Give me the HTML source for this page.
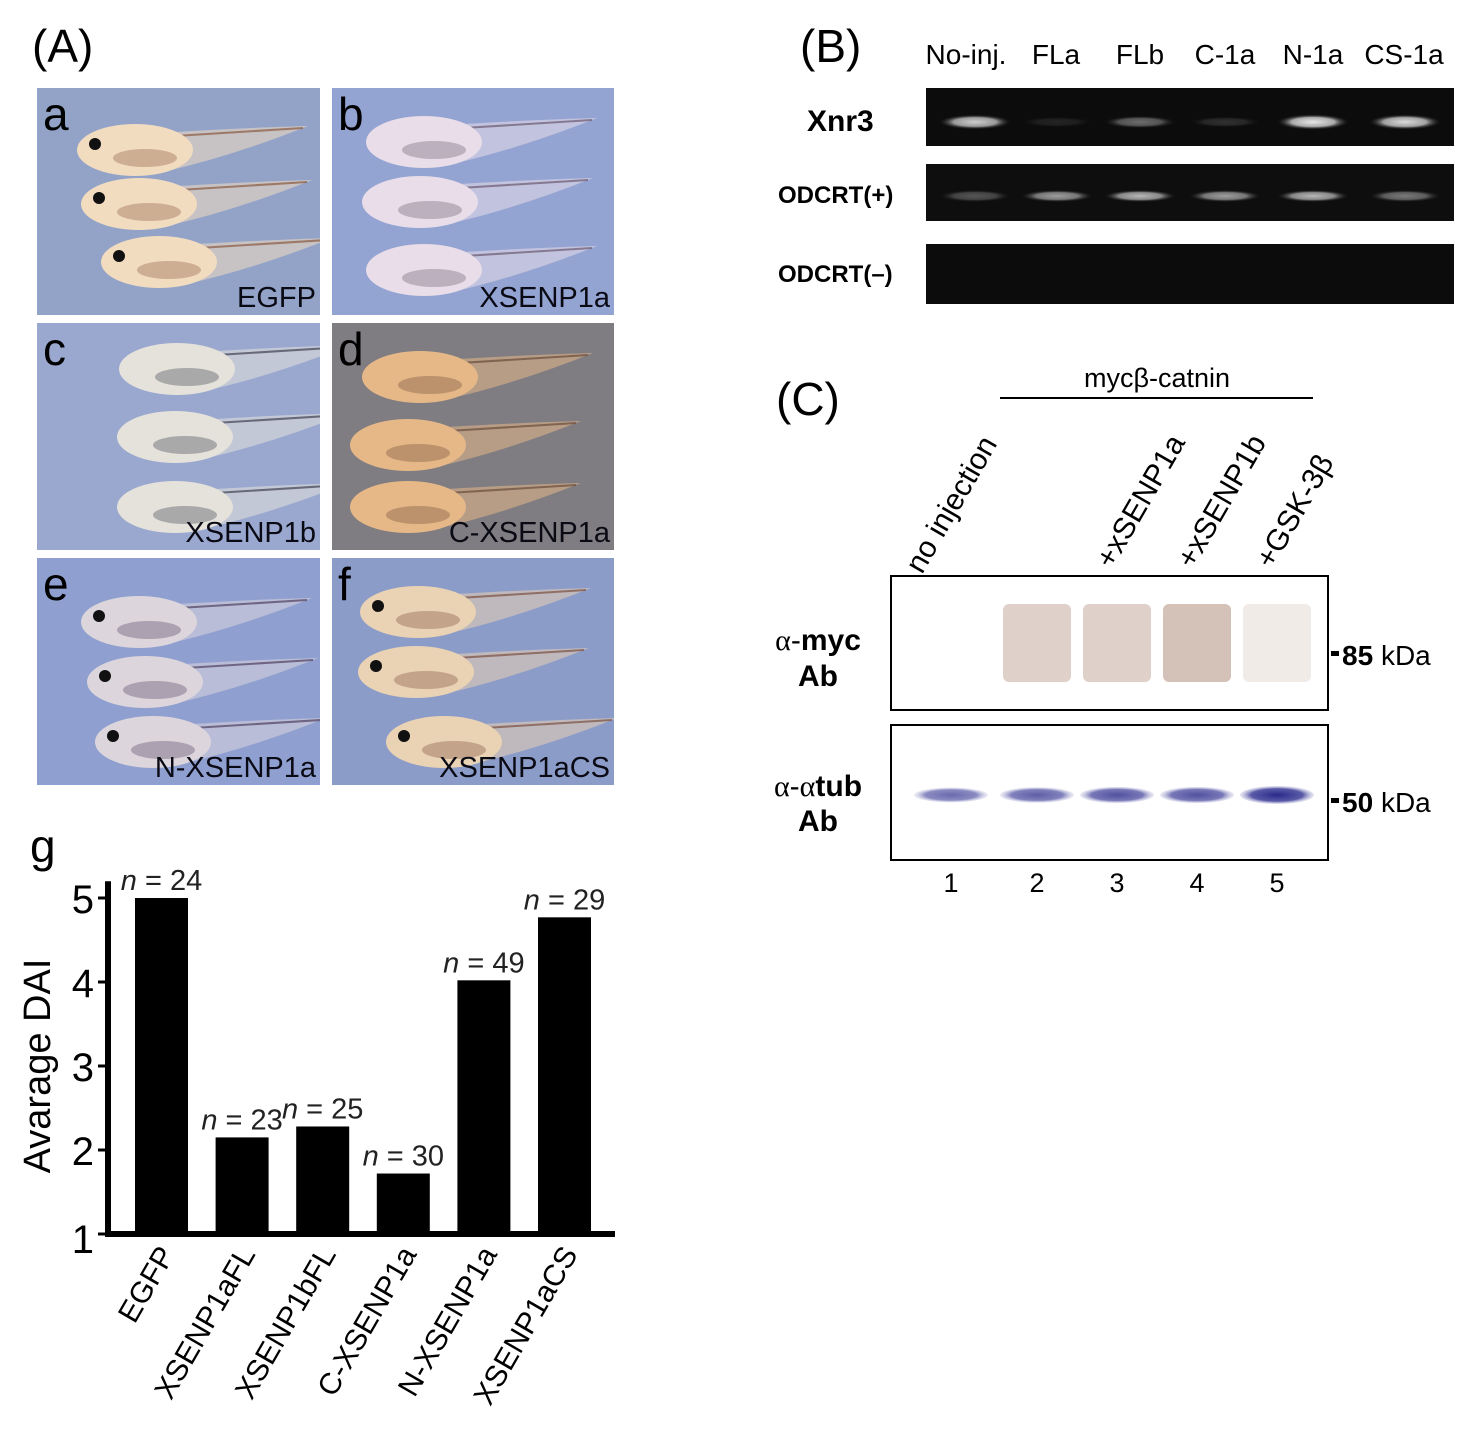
<!DOCTYPE html>
<html><head><meta charset="utf-8"><style>
html,body{margin:0;padding:0;background:#fff}
svg{display:block;font-family:"Liberation Sans",sans-serif}
</style></head><body>
<svg id="fig" width="1480" height="1440" viewBox="0 0 1480 1440" xmlns="http://www.w3.org/2000/svg">
<defs id="defs">
<radialGradient id="bandW" cx="0.5" cy="0.5" r="0.5"><stop offset="0" stop-color="#fff"/><stop offset="0.6" stop-color="#bbb"/><stop offset="1" stop-color="#222" stop-opacity="0"/></radialGradient>
<radialGradient id="bandB" cx="0.5" cy="0.5" r="0.5"><stop offset="0" stop-color="#2a2a8a"/><stop offset="0.7" stop-color="#5a5aa8"/><stop offset="1" stop-color="#b0b0d8" stop-opacity="0.3"/></radialGradient>
</defs>
<text x="32" y="62" font-size="46">(A)</text>
<g id="photos"></g>

<!-- Panel B -->
<text x="800" y="62" font-size="46">(B)</text>
<g font-size="28" text-anchor="middle">
<text x="966" y="64">No-inj.</text><text x="1056" y="64">FLa</text><text x="1140" y="64">FLb</text><text x="1225" y="64">C-1a</text><text x="1313" y="64">N-1a</text><text x="1404" y="64">CS-1a</text>
</g>
<g font-weight="bold">
<text x="807" y="131" font-size="30">Xnr3</text>
<text x="778" y="203" font-size="24">ODCRT(+)</text>
<text x="778" y="282" font-size="24">ODCRT(–)</text>
</g>
<rect x="926" y="88" width="528" height="58" fill="#0c0c0c"/>
<rect x="926" y="164" width="528" height="57" fill="#0e0e0e"/>
<rect x="926" y="244" width="528" height="60" fill="#0c0c0c"/>
<g id="gelbands"></g>

<!-- Panel C -->
<text x="776" y="415" font-size="46">(C)</text>
<text x="1157" y="387" font-size="27" text-anchor="middle">mycβ-catnin</text>
<line x1="1000" y1="398" x2="1313" y2="398" stroke="#000" stroke-width="2"/>
<g font-size="30">
<text transform="translate(922,575) rotate(-60)">no injection</text>
<text transform="translate(1112,570) rotate(-60)">+xSENP1a</text>
<text transform="translate(1193,570) rotate(-60)">+xSENP1b</text>
<text transform="translate(1272,570) rotate(-60)">+GSK-3β</text>
</g>
<rect x="891" y="576" width="437" height="134" fill="#fff" stroke="#000" stroke-width="2"/>
<rect x="891" y="725" width="437" height="135" fill="#fff" stroke="#000" stroke-width="2"/>
<g id="blotbands"></g>
<g text-anchor="middle">
<text x="818" y="650" font-size="30"><tspan font-family="Liberation Serif">α</tspan>-<tspan font-weight="bold">myc</tspan></text>
<text x="818" y="686" font-size="30" font-weight="bold">Ab</text>
<text x="818" y="796" font-size="30"><tspan font-family="Liberation Serif">α</tspan>-<tspan font-family="Liberation Serif">α</tspan><tspan font-weight="bold">tub</tspan></text>
<text x="818" y="831" font-size="30" font-weight="bold">Ab</text>
</g>
<rect x="1331" y="651" width="8" height="5" fill="#000"/>
<text x="1342" y="665" font-size="28" font-weight="bold">85 <tspan font-weight="normal">kDa</tspan></text>
<rect x="1331" y="798" width="8" height="5" fill="#000"/>
<text x="1342" y="812" font-size="28" font-weight="bold">50 <tspan font-weight="normal">kDa</tspan></text>
<g font-size="27" text-anchor="middle">
<text x="951" y="892">1</text><text x="1037" y="892">2</text><text x="1117" y="892">3</text><text x="1197" y="892">4</text><text x="1277" y="892">5</text>
</g>

<!-- Panel g chart -->
<text x="30" y="862" font-size="46">g</text>
<g id="chart"></g>
</svg>
<script>
const categories = ["EGFP","XSENP1aFL","XSENP1bFL","C-XSENP1a","N-XSENP1a","XSENP1aCS"];
const daiValues = [5.0, 2.15, 2.28, 1.72, 4.02, 4.77];
const nCounts = [24, 23, 25, 30, 49, 29];
const yTicks = [1, 2, 3, 4, 5];
const xnr3Intensity = [0.8, 0.1, 0.4, 0.15, 0.9, 0.85];
const odcIntensity = [0.3, 0.6, 0.7, 0.6, 0.7, 0.45];
const tubIntensity = [0.5, 0.6, 0.7, 0.7, 1.0];
const mycIntensity = [0, 0.45, 0.45, 0.6, 0.2];

const NS = "http://www.w3.org/2000/svg";
function mk(tag, attrs, parent){const e=document.createElementNS(NS,tag);for(const k in attrs)e.setAttribute(k,attrs[k]);parent.appendChild(e);return e;}

// chart
const chart = document.getElementById('chart');
const x0 = 108, baseY = 1234, unit = 84, step = 80.6, barW = 53, firstBar = 135;
function yScale(v){return baseY - (v - 1) * unit;}
function xScale(i){return firstBar + i * step;}
const yAxis = mk('line',{x1:x0,y1:yScale(5.2),x2:x0,y2:baseY+2,stroke:'#000','stroke-width':6},chart);


const xAxis = mk('line',{x1:x0-3,y1:baseY,x2:615,y2:baseY,stroke:'#000','stroke-width':6},chart);


yTicks.forEach(t=>{
  const tk = mk('line',{x1:x0-10,y1:yScale(t),x2:x0,y2:yScale(t),stroke:'#000','stroke-width':3},chart);
  
  
  const lb = mk('text',{x:x0-14,y:yScale(t)+15+(t===1?4:0),'font-size':40,'text-anchor':'end'},chart);
  lb.textContent = t;
  
  
});
const yt = mk('text',{transform:'translate(50,1066) rotate(-90)','font-size':38,'text-anchor':'middle'},chart);
yt.textContent = 'Avarage DAI';


categories.forEach((c,i)=>{
  const x = xScale(i), y = yScale(daiValues[i]);
  const b = mk('rect',{x:x,y:y,width:barW,height:baseY-y,fill:'#000'},chart);
  
  
  const n = mk('text',{x:x+barW/2,y:y-8,'font-size':29,'text-anchor':'middle',fill:'#222'},chart);
  n.innerHTML = '<tspan font-style="italic">n</tspan> = '+nCounts[i];
  
  
  const xl = mk('text',{transform:'translate('+(x+barW/2+14)+',1254) rotate(-60)','font-size':30,'text-anchor':'end'},chart);
  xl.textContent = c;
  
  
});

// gel bands
const gel = document.getElementById('gelbands');
const laneX = [975,1057,1140,1225,1313,1405];
laneX.forEach((lx,i)=>{
  const a = mk('ellipse',{cx:lx,cy:122,rx:36,ry:5+3*xnr3Intensity[i],fill:'url(#bandW)',opacity:xnr3Intensity[i]},gel);
  
  
  const b = mk('ellipse',{cx:lx,cy:196,rx:36,ry:6,fill:'url(#bandW)',opacity:odcIntensity[i]},gel);
  
  
});

// blot bands
const blot = document.getElementById('blotbands');
const blotX = [951,1037,1117,1197,1277];
blotX.forEach((bx,i)=>{
  if(mycIntensity[i]>0){
    const m = mk('rect',{x:bx-34,y:604,width:68,height:78,rx:6,fill:'#b89a88',opacity:mycIntensity[i]},blot);
    
    
  }
  const t = mk('ellipse',{cx:bx,cy:795,rx:37,ry:6+3*tubIntensity[i],fill:'url(#bandB)',opacity:0.4+0.6*tubIntensity[i]},blot);
  
  
});

// embryo photos
const photos = document.getElementById('photos');
const defs = document.getElementById('defs');
const panels = [
 {x:37,y:88,w:283,h:227,l:'a',cap:'EGFP',bg:'#93a3c8',body:'#f2dcc0',eye:true,dark:'#8a5a40',emb:[[46,38],[50,92],[70,150]]},
 {x:332,y:88,w:282,h:227,l:'b',cap:'XSENP1a',bg:'#94a4d2',body:'#e8dde8',eye:false,dark:'#6a5a70',emb:[[40,30],[36,90],[40,158]]},
 {x:37,y:323,w:283,h:227,l:'c',cap:'XSENP1b',bg:'#9aa8d0',body:'#e4e2da',eye:false,dark:'#404050',emb:[[88,22],[86,90],[86,160]]},
 {x:332,y:323,w:282,h:227,l:'d',cap:'C-XSENP1a',bg:'#7f7d82',body:'#e6b888',eye:false,dark:'#6a4a3a',emb:[[36,30],[24,98],[24,160]]},
 {x:37,y:558,w:283,h:227,l:'e',cap:'N-XSENP1a',bg:'#8fa0d0',body:'#dcd6dc',eye:true,dark:'#504060',emb:[[50,40],[56,100],[64,160]]},
 {x:332,y:558,w:282,h:227,l:'f',cap:'XSENP1aCS',bg:'#8c9cc8',body:'#ead2b4',eye:true,dark:'#7a5040',emb:[[34,30],[32,90],[60,160]]}
];
panels.forEach(p=>{
  const cp = mk('clipPath',{id:'clip-'+p.l},defs);
  mk('rect',{x:p.x,y:p.y,width:p.w,height:p.h},cp);
  const g = mk('g',{'clip-path':'url(#clip-'+p.l+')'},photos);
  
  
  mk('rect',{x:p.x,y:p.y,width:p.w,height:p.h,fill:p.bg},g);
  p.emb.forEach(e=>{
    const ex=p.x+e[0], ey=p.y+e[1];
    const tp = mk('path',{d:'M'+(ex+60)+','+(ey+8)+' Q'+(ex+150)+','+(ey+2)+' '+(ex+225)+','+(ey)+' Q'+(ex+150)+','+(ey+30)+' '+(ex+80)+','+(ey+46)+' Z',fill:p.body,opacity:0.55},g);
    
    
    mk('path',{d:'M'+(ex+60)+','+(ey+12)+' L'+(ex+220)+','+(ey+2),stroke:p.dark,'stroke-width':2,fill:'none',opacity:0.7},g);
    const bd = mk('ellipse',{cx:ex+52,cy:ey+24,rx:58,ry:26,fill:p.body},g);
    
    
    mk('ellipse',{cx:ex+62,cy:ey+32,rx:32,ry:9,fill:p.dark,opacity:0.35},g);
    if(p.eye){mk('circle',{cx:ex+12,cy:ey+18,r:6,fill:'#111'},g);}
  });
  const lt = mk('text',{x:p.x+6,y:p.y+42,'font-size':46,fill:'#000'},g);
  lt.textContent = p.l;
  
  
  const ct = mk('text',{x:p.x+p.w-4,y:p.y+p.h-8,'font-size':29,'text-anchor':'end',fill:'#0a0a14'},g);
  ct.textContent = p.cap;
  
  
});
</script>
</body></html>
